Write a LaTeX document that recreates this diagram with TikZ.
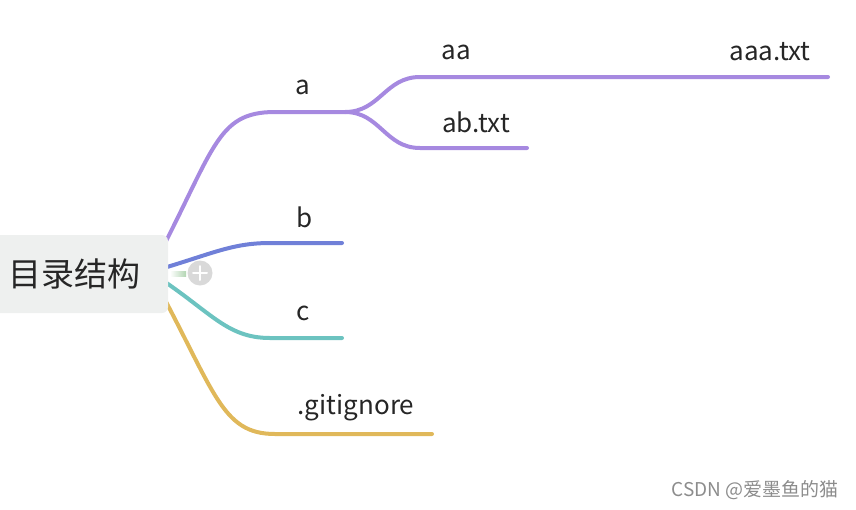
\documentclass[tikz,border=0pt]{standalone}
\usepackage{fontspec}
\newfontfamily\cjk{Noto Sans CJK SC}
\definecolor{zi}{RGB}{166,137,224}
\definecolor{lan}{RGB}{112,128,216}
\definecolor{qing}{RGB}{108,195,192}
\definecolor{huang}{RGB}{224,184,90}
\definecolor{hui}{RGB}{238,240,239}

\begin{document}
\begin{tikzpicture}[x=1pt,y=-1pt,line cap=round]
	\tikzstyle{zhi}=[line width=4pt];
	\tikzstyle{ming}=[font=\cjk\fontsize{26}{28}\selectfont,text=black!85];
	\useasboundingbox (0,0) rectangle (856,509);

	\coordinate (hub) at (150,272);
	\coordinate (fa) at (345,112);
	\coordinate (ea) at (828,77);
	\coordinate (eab) at (527,148);
	\coordinate (eb) at (342,243);
	\coordinate (ec) at (342,338);
	\coordinate (eg) at (432,434);

	\draw[zhi,zi] (hub) .. controls (215,150) and (215,112) .. (275,112) -- (fa);
	\draw[zhi,zi] (fa) .. controls (380,112) and (385,77) .. (420,77) -- (ea);
	\draw[zhi,zi] (fa) .. controls (380,112) and (385,148) .. (420,148) -- (eab);
	\draw[zhi,lan] (hub) .. controls (210,255) and (230,243) .. (270,243) -- (eb);
	\draw[zhi,qing] (hub) .. controls (210,310) and (225,338) .. (270,338) -- (ec);
	\draw[zhi,huang] (hub) .. controls (215,390) and (220,434) .. (275,434) -- (eg);

	\node[fill=hui,rounded corners=6pt,minimum width=182pt,minimum height=78pt] (root) at (77,274) {};
	\node[font=\cjk\fontsize{33}{35}\selectfont,text=black!85] (rt) at (75,274) {目录结构};
	\shade[left color=white,right color=green!45!black!30] (170,271) rectangle (186,276);
	\node[circle,fill=black!15,minimum size=25pt,inner sep=0pt] (plus) at (200,273) {};
	\draw[white,line width=2pt] (193,273) -- (207,273) (200,266) -- (200,280);

	\node[ming] (la) at (303,87) {a};
	\node[ming] (laa) at (456,52) {aa};
	\node[ming] (laaa) at (770,52) {aaa.txt};
	\node[ming] (lab) at (476,122) {ab.txt};
	\node[ming] (lb) at (305,217) {b};
	\node[ming] (lc) at (303,313) {c};
	\node[ming] (lg) at (356,408) {.gitignore};
	\node[font=\cjk\fontsize{19}{21}\selectfont,text=black!45] (wm) at (755,490) {CSDN @爱墨鱼的猫};
\end{tikzpicture}
\end{document}
